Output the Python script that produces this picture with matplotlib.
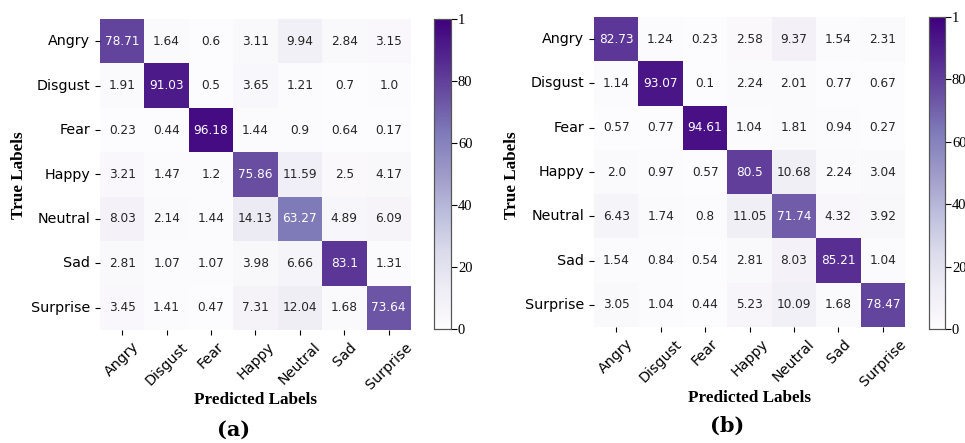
import numpy as np
import matplotlib
matplotlib.use("Agg")
import matplotlib.pyplot as plt
import seaborn as sns

classes = ["Angry", "Disgust", "Fear", "Happy", "Neutral", "Sad", "Surprise"]

cm_a = [
    [78.71, 1.64, 0.6, 3.11, 9.94, 2.84, 3.15],
    [1.91, 91.03, 0.5, 3.65, 1.21, 0.7, 1.0],
    [0.23, 0.44, 96.18, 1.44, 0.9, 0.64, 0.17],
    [3.21, 1.47, 1.2, 75.86, 11.59, 2.5, 4.17],
    [8.03, 2.14, 1.44, 14.13, 63.27, 4.89, 6.09],
    [2.81, 1.07, 1.07, 3.98, 6.66, 83.1, 1.31],
    [3.45, 1.41, 0.47, 7.31, 12.04, 1.68, 73.64],
]

cm_b = [
    [82.73, 1.24, 0.23, 2.58, 9.37, 1.54, 2.31],
    [1.14, 93.07, 0.1, 2.24, 2.01, 0.77, 0.67],
    [0.57, 0.77, 94.61, 1.04, 1.81, 0.94, 0.27],
    [2.0, 0.97, 0.57, 80.5, 10.68, 2.24, 3.04],
    [6.43, 1.74, 0.8, 11.05, 71.74, 4.32, 3.92],
    [1.54, 0.84, 0.54, 2.81, 8.03, 85.21, 1.04],
    [3.05, 1.04, 0.44, 5.23, 10.09, 1.68, 78.47],
]

cbar_ticks = [0, 20, 40, 60, 80, 100]
cbar_ticklabels = ["0", "20", "40", "60", "80", "1"]
panel_tags = ["(a)", "(b)"]

W, H = 965, 443
fig = plt.figure(figsize=(W / 100, H / 100), dpi=100)


def box(x0, y0, x1, y1):
    return [x0 / W, 1 - y1 / H, (x1 - x0) / W, (y1 - y0) / H]


panels = [
    dict(data=cm_a, ax=box(100, 19, 411, 330), cax=box(434, 19, 451, 329),
         ylab=(19, 175), xlab=(256, 400), tag=(234, 430)),
    dict(data=cm_b, ax=box(594, 17, 905, 327), cax=box(929, 17, 945, 329),
         ylab=(512, 175), xlab=(750, 398), tag=(727, 426)),
]

for p, tag in zip(panels, panel_tags):
    ax = fig.add_axes(p["ax"])
    cax = fig.add_axes(p["cax"])
    data = np.array(p["data"])
    annot = np.array([[str(v) for v in row] for row in p["data"]])
    sns.heatmap(data, ax=ax, cbar_ax=cax, cmap="Purples", vmin=0, vmax=100,
                annot=annot, fmt="", annot_kws={"size": 8.7},
                xticklabels=classes, yticklabels=classes)
    ax.tick_params(axis="both", labelsize=10.3, length=3.5, width=0.8)
    ax.set_xticklabels(classes, rotation=45, ha="center", fontsize=10.3)
    ax.set_yticklabels(classes, rotation=0, fontsize=10.3)

    cax.set_yticks(cbar_ticks)
    cax.set_yticklabels(cbar_ticklabels, family="Liberation Serif", fontsize=10.5)
    cax.tick_params(length=4, width=0.8, pad=1)
    for s in cax.spines.values():
        s.set_visible(True)
        s.set_edgecolor("#555555")
        s.set_linewidth(0.8)

    fig.text(p["ylab"][0] / W, 1 - p["ylab"][1] / H, "True Labels", rotation=90,
             ha="center", va="center", family="Liberation Serif",
             weight="bold", fontsize=12.3)
    fig.text(p["xlab"][0] / W, 1 - p["xlab"][1] / H, "Predicted Labels",
             ha="center", va="center", family="Liberation Serif",
             weight="bold", fontsize=12.3)
    fig.text(p["tag"][0] / W, 1 - p["tag"][1] / H, tag, ha="center",
             va="center", family="DejaVu Serif", weight="bold", fontsize=15)

fig.savefig("out.png", dpi=100)
